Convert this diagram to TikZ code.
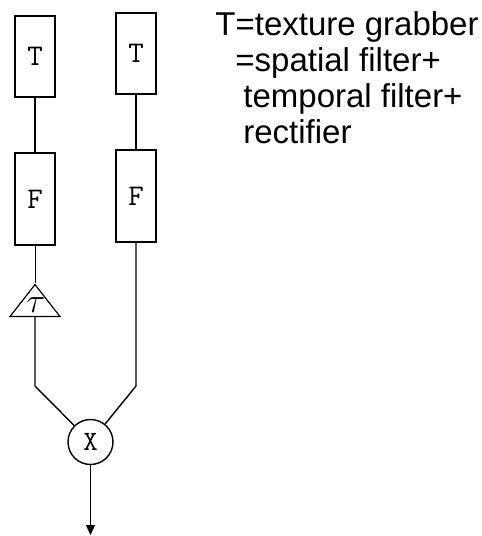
\documentclass[tikz,border=0pt]{standalone}
\usepackage{fontspec}
\usepackage{tikz}
\usetikzlibrary{arrows.meta,positioning,shapes.geometric}
\newfontfamily\notefont{Liberation Sans}

\begin{document}
\begin{tikzpicture}[x=0.5pt, y=-0.5pt,
    blockbox/.style={draw, line width=0.7pt, minimum width=20pt, inner sep=0pt, font=\ttfamily\fontsize{15}{17}\selectfont},
    delaytri/.style={draw, line width=0.6pt, isosceles triangle, isosceles triangle stretches, shape border rotate=90, minimum width=25pt, minimum height=16pt, inner sep=0pt},
    mulnode/.style={draw, circle, line width=0.7pt, minimum size=22.5pt, inner sep=0pt, font=\ttfamily\fontsize{14}{16}\selectfont},
    wire/.style={line width=0.7pt}
  ]
  \useasboundingbox (0,0) rectangle (482,536);

  % left channel
  \node[blockbox, minimum height=40.5pt] (T1) at (35,56.5) {T};
  \node[blockbox, minimum height=46pt] (F1) at (35,199) {F};
  \node[delaytri, anchor=apex] (tri) at (35,283) {};
  \node[font=\fontsize{18}{20}\selectfont, inner sep=0pt] (tau) at (36,305) {$\tau$};

  % right channel
  \node[blockbox, minimum height=40.5pt] (T2) at (136,53.5) {T};
  \node[blockbox, minimum height=46pt] (F2) at (136,196) {F};

  % multiplier
  \node[mulnode] (mul) at (90.5,442) {X};
  \coordinate (bendL) at (35,386);
  \coordinate (bendR) at (136,386);
  \coordinate (out) at (90.5,535);

  \draw[wire] (T1) -- (F1);
  \draw[line width=0.5pt] (F1) -- (tri.apex);
  \draw[wire] (tri.lower side) -- (bendL) -- (mul);
  \draw[wire] (T2) -- (F2);
  \draw[wire] (F2) -- (bendR) -- (mul);
  \draw[wire, -{Triangle[length=5pt, width=4.5pt]}] (mul) -- (out);

  % legend
  \node[anchor=north west, align=left, inner sep=0pt, font=\notefont\fontsize{16.5}{18}\selectfont] (note) at (215,11)
    {T=texture grabber\\
     \hspace{10pt}=spatial filter+\\
     \hspace{14pt}temporal filter+\\
     \hspace{14pt}rectifier};
\end{tikzpicture}
\end{document}
